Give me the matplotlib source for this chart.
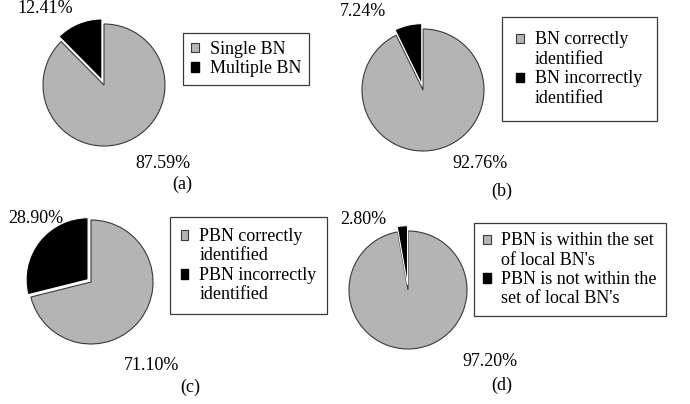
import matplotlib
matplotlib.use('Agg')
import matplotlib.pyplot as plt
from matplotlib.patches import Patch, Rectangle
from matplotlib.legend_handler import HandlerPatch

plt.rcParams['font.family'] = ['Liberation Serif', 'DejaVu Serif']

# Data for the four pies: (grey share, black share)
shares_a = [87.59, 12.41]
shares_b = [92.76, 7.24]
shares_c = [71.10, 28.90]
shares_d = [97.20, 2.80]

labels_a = ['Single BN', 'Multiple BN']
labels_b = ['BN correctly\nidentified', 'BN incorrectly\nidentified']
labels_c = ['PBN correctly\nidentified', 'PBN incorrectly\nidentified']
labels_d = ["PBN is within the set\nof local BN's", "PBN is not within the\nset of local BN's"]

captions = ['(a)', '(b)', '(c)', '(d)']

W, H = 690, 404
GREY = '#b4b4b4'
EDGE = '#3a3a3a'
LINE_PT = 8.0  # shift of the square for each extra label line, points


class TopSquare(HandlerPatch):
    """Legend square aligned with the first line of a multi-line label."""
    def __init__(self, nlines):
        super().__init__()
        self.shift = (nlines - 1) * LINE_PT

    def create_artists(self, legend, orig_handle, xdescent, ydescent,
                       width, height, fontsize, trans):
        p = Rectangle((-xdescent, -ydescent + self.shift), width, height)
        self.update_prop(p, orig_handle, legend)
        p.set_transform(trans)
        return [p]


fig = plt.figure(figsize=(W / 100, H / 100), dpi=100)

# layout per panel: pie centre/radius (px), value label offsets (radius units),
# caption position (px), legend anchor (px)
panels = [
    dict(shares=shares_a, labels=labels_a, c=(104, 85), r=61, ex=0.09,
         lab=[(0.97, -1.28), (-0.97, 1.26)], cap=(182, 184), leg=(183, 33), pad=0.45),
    dict(shares=shares_b, labels=labels_b, c=(423, 90), r=61, ex=0.09,
         lab=[(0.93, -1.20), (-0.98, 1.28)], cap=(502, 191), leg=(502, 17), pad=0.8),
    dict(shares=shares_c, labels=labels_c, c=(91, 282), r=62, ex=0.06,
         lab=[(0.98, -1.34), (-0.89, 1.02)], cap=(190, 387), leg=(170, 217), pad=0.6),
    dict(shares=shares_d, labels=labels_d, c=(408, 290), r=59, ex=0.09,
         lab=[(1.39, -1.22), (-0.75, 1.20)], cap=(502, 385), leg=(474, 223), pad=0.5),
]

k = 1.6
for i, p in enumerate(panels):
    cx, cy = p['c']
    r = p['r']
    ax = fig.add_axes([(cx - k * r) / W, (H - cy - k * r) / H, 2 * k * r / W, 2 * k * r / H])
    wedges, _ = ax.pie(p['shares'], colors=[GREY, 'black'], startangle=90,
                       counterclock=False, explode=[0, p['ex']], radius=1,
                       wedgeprops=dict(edgecolor=EDGE, linewidth=0.8))
    wedges[1].set_edgecolor('white')
    wedges[1].set_linewidth(0.8)
    ax.set_xlim(-k, k)
    ax.set_ylim(-k, k)
    ax.axis('off')

    for val, (dx, dy) in zip(p['shares'], p['lab']):
        ax.text(dx, dy, f'{val:.2f}%', ha='center', va='center', fontsize=13)

    fig.text(p['cap'][0] / W, 1 - p['cap'][1] / H, captions[i],
             ha='center', va='center', fontsize=13)

    handles = [Patch(facecolor=GREY, edgecolor=EDGE, linewidth=0.8),
               Patch(facecolor='black', edgecolor='black')]
    hmap = {h: TopSquare(lab.count('\n') + 1) for h, lab in zip(handles, p['labels'])}
    leg = fig.legend(handles, p['labels'], loc='upper left', handler_map=hmap,
                     bbox_to_anchor=(p['leg'][0] / W, 1 - p['leg'][1] / H),
                     borderaxespad=0, fontsize=13, frameon=True, fancybox=False,
                     edgecolor=EDGE, framealpha=1, handlelength=0.42,
                     handleheight=0.42, handletextpad=0.6, borderpad=p['pad'],
                     labelspacing=0.12)
    leg.get_frame().set_linewidth(0.9)

plt.savefig('out.png', dpi=100)
